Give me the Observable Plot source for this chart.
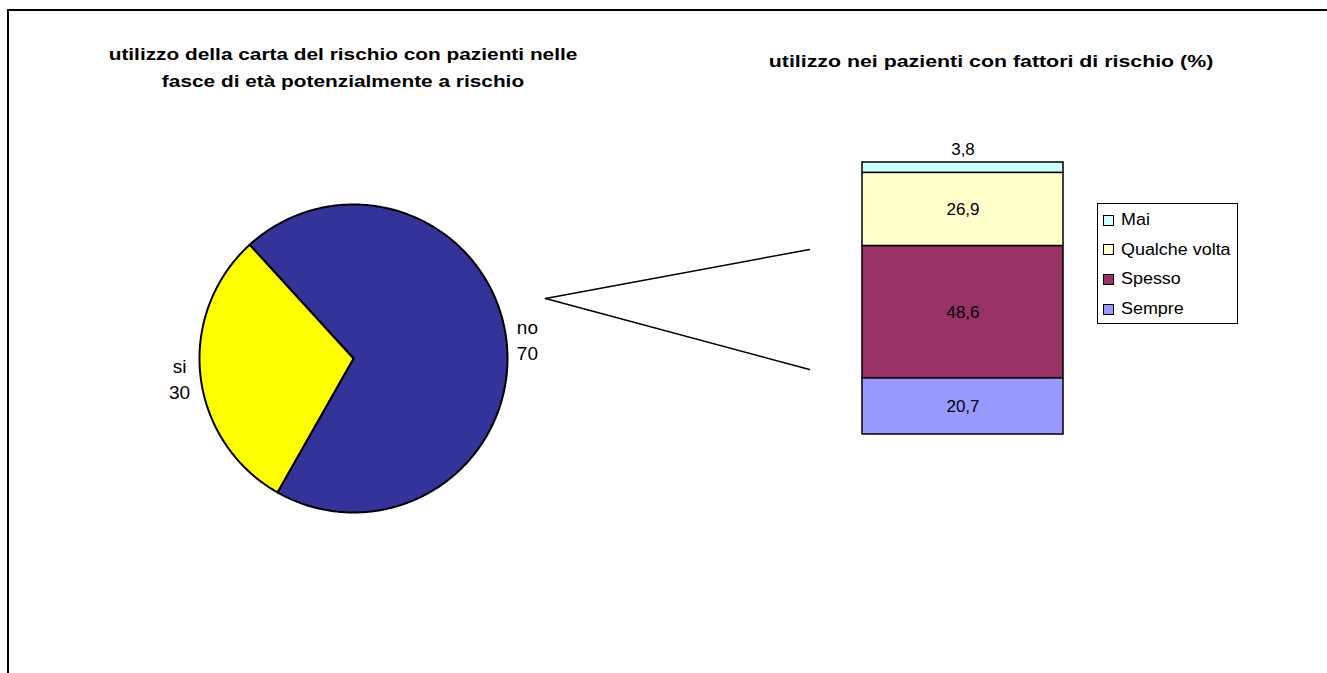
<!DOCTYPE html>
<html><head><meta charset="utf-8">
<script src="https://cdn.jsdelivr.net/npm/d3@7"></script>
<script src="https://cdn.jsdelivr.net/npm/@observablehq/plot@0.6"></script>
<style>
html,body{margin:0;padding:0;background:#fff;overflow:hidden;width:1327px;height:673px;}
#root{position:relative;width:1327px;height:673px;overflow:hidden;font-family:Arial,"Liberation Sans",sans-serif;color:#000;}
.frame{position:absolute;left:7px;top:9px;width:1318px;height:662px;border-top:2px solid #000;border-left:2px solid #000;border-right:0;border-bottom:0;}
.title{position:absolute;font-weight:bold;text-align:center;white-space:nowrap;line-height:27px;transform-origin:center top;}
.legend{position:absolute;border:1px solid #000;background:#fff;box-sizing:border-box;}
.legend .item{position:absolute;left:5px;display:flex;align-items:center;white-space:nowrap;}
.legend .sw{width:9px;height:9px;border:1px solid #000;margin-right:7px;flex:none;}
.legend .tx{display:inline-block;transform:scaleX(1.12);transform-origin:left center;}
</style></head><body><div id="root"><div class="frame"></div></div>
<script>
// ---- data ----
const pieCategories = ["no", "si"];
const pieValues = [70, 30];
const barCategories = ["Sempre", "Spesso", "Qualche volta", "Mai"];
const barValues = [20.7, 48.6, 26.9, 3.8];
const pieTitleLines = ["utilizzo della carta del rischio con pazienti nelle", "fasce di età potenzialmente a rischio"];
const barTitle = "utilizzo nei pazienti con fattori di rischio (%)";
const pieColors = ["#333399", "#FFFF00"];
const barColors = ["#9999FF", "#993366", "#FFFFCC", "#CCFFFF"];

// ---- layout ----
const W = 1327, H = 673;
const pie = {cx: 353, cy: 358, r: 154, start: -42.4, labelGap: 21};
const bar = {left: 862, top: 162, width: 201, height: 272};
const connector = {apexX: 545, apexY: 298, endX: 809, endTop: 249, endBottom: 369};

const root = document.getElementById("root");
const fmt = v => v.toFixed(1).replace(".", ",");

// pie geometry from values
const s0 = pie.start * Math.PI / 180;
const arcs = d3.pie().sort(null).startAngle(s0).endAngle(s0 + 2 * Math.PI)(pieValues);
const piePts = [];
arcs.forEach((a, i) => {
  const n = Math.max(2, Math.ceil((a.endAngle - a.startAngle) / (Math.PI / 360)));
  piePts.push({cat: pieCategories[i], x: pie.cx, y: pie.cy});
  for (let j = 0; j <= n; j++) {
    const t = a.startAngle + (a.endAngle - a.startAngle) * j / n;
    piePts.push({cat: pieCategories[i], x: pie.cx + pie.r * Math.sin(t), y: pie.cy - pie.r * Math.cos(t)});
  }
  piePts.push({cat: pieCategories[i], x: pie.cx, y: pie.cy});
});
const pieLabels = arcs.map((a, i) => {
  const m = (a.startAngle + a.endAngle) / 2, rr = pie.r + pie.labelGap;
  return {x: pie.cx + rr * Math.sin(m), y: pie.cy - rr * Math.cos(m), text: pieCategories[i] + "\n" + pieValues[i]};
});
const conn = [
  {s: "top", x: connector.endX, y: connector.endTop},
  {s: "top", x: connector.apexX, y: connector.apexY},
  {s: "bot", x: connector.apexX, y: connector.apexY},
  {s: "bot", x: connector.endX, y: connector.endBottom}
];

const overlay = Plot.plot({
  width: W, height: H, margin: 0,
  x: {domain: [0, W], range: [0, W], axis: null},
  y: {domain: [0, H], range: [0, H], axis: null},
  color: {domain: pieCategories, range: pieColors},
  style: {background: "transparent", fontFamily: "Arial, 'Liberation Sans', sans-serif"},
  marks: [
    Plot.line(piePts, {x: "x", y: "y", z: "cat", fill: "cat", stroke: "#000", strokeWidth: 2, strokeLinejoin: "round"}),
    Plot.line(conn, {x: "x", y: "y", z: "s", stroke: "#000", strokeWidth: 1.5}),
    Plot.text(pieLabels, {x: "x", y: "y", text: "text", fontSize: 19, lineHeight: 1.37, fill: "#000"})
  ]
});
overlay.style.position = "absolute"; overlay.style.left = "0px"; overlay.style.top = "0px";
root.appendChild(overlay);

// stacked bar
const barData = barCategories.map((c, i) => ({cat: c, value: barValues[i], label: fmt(barValues[i])}));
const mt = 31;
const barPlot = Plot.plot({
  width: bar.width + 2, height: bar.height + mt + 1,
  marginTop: mt, marginBottom: 1, marginLeft: 1, marginRight: 1,
  x: {domain: ["all"], padding: 0, axis: null},
  y: {domain: [0, 100], axis: null},
  color: {domain: barCategories, range: barColors},
  style: {background: "transparent", fontFamily: "Arial, 'Liberation Sans', sans-serif", overflow: "visible"},
  marks: [
    Plot.barY(barData, {x: () => "all", y: "value", fill: "cat", stroke: "#000", strokeWidth: 1.5}),
    Plot.text(barData, Plot.stackY({x: () => "all", y: "value", text: d => d.cat === "Mai" ? null : d.label, fontSize: 17, fill: "#000"})),
    Plot.text(barData, Plot.stackY2({x: () => "all", y: "value", text: d => d.cat === "Mai" ? d.label : null, fontSize: 17, dy: -13, fill: "#000"}))
  ]
});
barPlot.style.position = "absolute";
barPlot.style.left = (bar.left - 1) + "px";
barPlot.style.top = (bar.top - mt) + "px";
root.appendChild(barPlot);

// legend
const legend = document.createElement("div");
legend.className = "legend";
Object.assign(legend.style, {left: "1097px", top: "203px", width: "141px", height: "121px"});
[...barCategories].reverse().forEach((c, k) => {
  const i = barCategories.indexOf(c);
  const it = document.createElement("div");
  it.className = "item";
  it.style.top = (6 + k * 29.7) + "px";
  it.style.fontSize = "16px";
  it.style.lineHeight = "20px";
  const sw = document.createElement("span"); sw.className = "sw"; sw.style.background = barColors[i];
  const tx = document.createElement("span"); tx.className = "tx"; tx.textContent = c;
  it.appendChild(sw); it.appendChild(tx);
  legend.appendChild(it);
});
root.appendChild(legend);

// titles
function addTitle(lines, cx, top, size, stretch) {
  const d = document.createElement("div");
  d.className = "title";
  d.style.fontSize = size + "px";
  d.style.left = (cx - 300) + "px"; d.style.width = "600px"; d.style.top = top + "px";
  d.style.transform = "scaleX(" + stretch + ")";
  d.innerHTML = lines.map(l => l.replace(/&/g, "&amp;").replace(/</g, "&lt;")).join("<br>");
  root.appendChild(d);
}
addTitle(pieTitleLines, 343, 41, 17, 1.225);
addTitle([barTitle], 990.5, 48, 17, 1.255);
</script></body></html>
